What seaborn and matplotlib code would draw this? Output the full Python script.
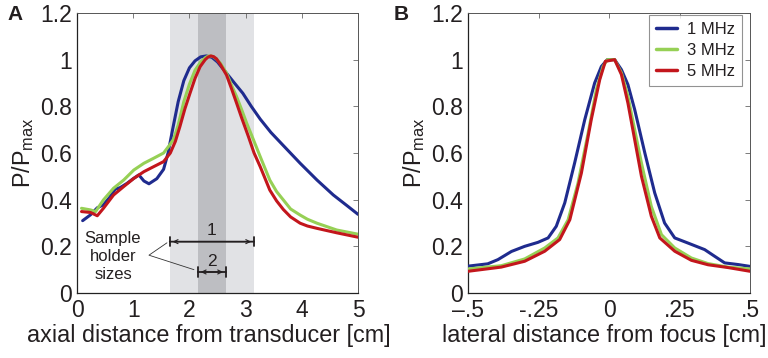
import numpy as np
import pandas as pd
import matplotlib
matplotlib.use("Agg")
import matplotlib.pyplot as plt
import seaborn as sns

# ---------------- data ----------------
freqs = ["1 MHz", "3 MHz", "5 MHz"]
colors = ["#1f2b8e", "#96d055", "#c3161c"]

# Panel A: axial profiles
a_x_1 = [0.1, 0.24, 0.36, 0.47, 0.58, 0.68, 0.77, 0.89, 1.0, 1.1, 1.19, 1.28, 1.42, 1.54, 1.62, 1.70,
         1.80, 1.90, 2.0, 2.1, 2.2, 2.3, 2.4, 2.5, 2.6, 2.7, 2.8, 2.95, 3.1, 3.26, 3.45, 3.67, 3.97,
         4.27, 4.56, 4.8, 5.0]
a_y_1 = [0.31, 0.335, 0.365, 0.378, 0.41, 0.445, 0.452, 0.47, 0.49, 0.506, 0.48, 0.468, 0.49, 0.53,
         0.60, 0.70, 0.82, 0.91, 0.965, 0.995, 1.012, 1.016, 1.01, 0.99, 0.96, 0.93, 0.90, 0.856,
         0.80, 0.745, 0.688, 0.632, 0.556, 0.484, 0.42, 0.375, 0.337]
a_x_3 = [0.08, 0.24, 0.33, 0.47, 0.65, 0.83, 1.01, 1.19, 1.36, 1.54, 1.65, 1.72, 1.8, 1.9, 2.0, 2.1,
         2.2, 2.28, 2.33, 2.38, 2.43, 2.48, 2.55, 2.66, 2.75, 2.84, 2.93, 3.02, 3.1, 3.26, 3.43,
         3.55, 3.67, 3.8, 3.97, 4.1, 4.27, 4.62, 5.0]
a_y_3 = [0.363, 0.356, 0.349, 0.399, 0.449, 0.484, 0.527, 0.556, 0.577, 0.60, 0.635, 0.66, 0.72,
         0.82, 0.895, 0.955, 0.99, 1.008, 1.015, 1.016, 1.012, 1.003, 0.985, 0.942, 0.89, 0.841,
         0.785, 0.727, 0.68, 0.584, 0.484, 0.435, 0.399, 0.36, 0.334, 0.316, 0.299, 0.27, 0.252]
a_x_5 = [0.08, 0.24, 0.36, 0.47, 0.65, 0.83, 1.01, 1.19, 1.36, 1.54, 1.66, 1.75, 1.83, 1.92, 2.01,
         2.1, 2.19, 2.28, 2.33, 2.38, 2.43, 2.48, 2.55, 2.66, 2.75, 2.84, 2.93, 3.05, 3.15, 3.26,
         3.43, 3.55, 3.67, 3.8, 3.97, 4.1, 4.27, 4.62, 5.0]
a_y_5 = [0.349, 0.345, 0.331, 0.363, 0.42, 0.456, 0.491, 0.52, 0.541, 0.563, 0.60, 0.65, 0.713,
         0.79, 0.856, 0.92, 0.97, 1.0, 1.011, 1.016, 1.013, 1.004, 0.98, 0.934, 0.875, 0.813,
         0.75, 0.67, 0.60, 0.541, 0.441, 0.395, 0.358, 0.326, 0.299, 0.287, 0.277, 0.258, 0.239]

# Panel B: lateral profiles
b_x_1 = [-0.5, -0.43, -0.394, -0.346, -0.299, -0.252, -0.216, -0.187, -0.157, -0.122, -0.086,
         -0.051, -0.027, -0.006, 0.02, 0.044, 0.067, 0.091, 0.127, 0.162, 0.197, 0.233, 0.28,
         0.339, 0.375, 0.41, 0.457, 0.5]
b_y_1 = [0.115, 0.125, 0.143, 0.178, 0.2, 0.217, 0.236, 0.286, 0.386, 0.557, 0.743, 0.9, 0.971,
         1.0, 1.0, 0.957, 0.893, 0.786, 0.6, 0.429, 0.3, 0.236, 0.214, 0.186, 0.157, 0.129, 0.122,
         0.114]
b_x_3 = [-0.5, -0.382, -0.299, -0.228, -0.181, -0.145, -0.110, -0.074, -0.045, -0.021, -0.006,
         0.02, 0.044, 0.067, 0.091, 0.115, 0.15, 0.186, 0.233, 0.292, 0.351, 0.422, 0.5]
b_y_3 = [0.103, 0.117, 0.146, 0.193, 0.236, 0.314, 0.471, 0.686, 0.871, 0.971, 1.0, 1.0, 0.943,
         0.843, 0.7, 0.557, 0.371, 0.25, 0.193, 0.15, 0.126, 0.111, 0.103]
b_x_5 = [-0.5, -0.382, -0.299, -0.228, -0.175, -0.139, -0.098, -0.063, -0.033, -0.013, 0.02,
         0.044, 0.067, 0.091, 0.115, 0.15, 0.18, 0.233, 0.292, 0.351, 0.422, 0.5]
b_y_5 = [0.093, 0.111, 0.136, 0.179, 0.229, 0.314, 0.514, 0.743, 0.914, 0.993, 1.0, 0.936, 0.814,
         0.657, 0.5, 0.329, 0.236, 0.179, 0.14, 0.121, 0.109, 0.093]

# sample holder regions (cm)
holder_1 = [1.65, 3.15]
holder_2 = [2.15, 2.65]

a_xticks = [0, 1, 2, 3, 4, 5]
yticks = [0, 0.2, 0.4, 0.6, 0.8, 1.0, 1.2]
ytick_labels = ["0", "0.2", "0.4", "0.6", "0.8", "1", "1.2"]
b_xticks = [-0.5, -0.25, 0, 0.25, 0.5]
b_xtick_labels = ["\u2013.5", "-.25", "0", ".25", ".5"]


def long_df(xs, ys):
    parts = []
    for f, x, y in zip(freqs, xs, ys):
        parts.append(pd.DataFrame({"x": x, "y": y, "freq": f}))
    return pd.concat(parts, ignore_index=True)


df_a = long_df([a_x_1, a_x_3, a_x_5], [a_y_1, a_y_3, a_y_5])
df_b = long_df([b_x_1, b_x_3, b_x_5], [b_y_1, b_y_3, b_y_5])

# ---------------- style ----------------
sns.set_theme(style="white")
plt.rcParams["font.family"] = ["Liberation Sans", "DejaVu Sans"]
plt.rcParams["mathtext.fontset"] = "custom"
plt.rcParams["mathtext.rm"] = "Liberation Sans"
plt.rcParams["mathtext.it"] = "Liberation Sans"
txt = "#231f20"
fs_tick = 16.5
fs_label = 16.8

fig = plt.figure(figsize=(7.68, 3.58), dpi=100)
ax_a = fig.add_axes([0.1003, 0.1816, 0.3659, 0.7821])
ax_b = fig.add_axes([0.6094, 0.1816, 0.3672, 0.7821])

palette = dict(zip(freqs, colors))

# shaded holder regions
ax_a.axvspan(*holder_1, color="#e1e2e5", zorder=0, lw=0)
ax_a.axvspan(*holder_2, color="#bdbec2", zorder=0.5, lw=0)

sns.lineplot(data=df_a, x="x", y="y", hue="freq", palette=palette, sort=False,
             estimator=None, lw=2.2, ax=ax_a, legend=False, zorder=3)
sns.lineplot(data=df_b, x="x", y="y", hue="freq", palette=palette, sort=False,
             estimator=None, lw=2.2, ax=ax_b, zorder=3)

for ax in (ax_a, ax_b):
    ax.set_ylim(0, 1.2)
    ax.set_yticks(yticks)
    ax.set_yticklabels(ytick_labels)
    ax.tick_params(direction="in", length=3.5, width=0.6, colors="#666666",
                   labelcolor=txt, labelsize=fs_tick, top=True, right=True)
    ax.tick_params(axis="x", pad=4)
    ax.tick_params(axis="y", pad=3.5)
    for s in ax.spines.values():
        s.set_color("#222222")
        s.set_linewidth(0.9)
    for s in ("top", "right"):
        ax.spines[s].set_color("#555555")
        ax.spines[s].set_linewidth(0.7)
    ax.set_ylabel("P/P$_{\\mathrm{max}}$", fontsize=fs_label, color=txt, labelpad=3)

ax_a.set_xlim(0, 5)
ax_a.set_xticks(a_xticks)
ax_a.set_xticklabels([str(t) for t in a_xticks])
ax_a.set_xlabel("axial distance from transducer [cm]", fontsize=fs_label, color=txt, labelpad=2)
ax_a.xaxis.label.set_x(0.47)

ax_b.set_xlim(-0.5, 0.5)
ax_b.set_xticks(b_xticks)
ax_b.set_xticklabels(b_xtick_labels)
ax_b.set_xlabel("lateral distance from focus [cm]", fontsize=fs_label, color=txt, labelpad=2)
ax_b.xaxis.label.set_x(0.484)

leg = ax_b.legend(loc="upper right", bbox_to_anchor=(0.972, 0.993), borderaxespad=0,
                  fontsize=12, frameon=True, fancybox=False,
                  handlelength=1.25, labelspacing=0.38, handletextpad=0.65, borderpad=0.4)
leg.get_frame().set_edgecolor("#777777")
leg.get_frame().set_linewidth(0.8)
for t in leg.get_texts():
    t.set_color(txt)
for h in leg.legend_handles:
    h.set_linewidth(2.5)

# sample holder brackets
br_col = "#231f20"
y1, y2 = 0.22, 0.09
for (lo, hi), yy in ((holder_1, y1), (holder_2, y2)):
    ax_a.annotate("", xy=(lo, yy), xytext=(hi, yy),
                  arrowprops=dict(arrowstyle="|-|,widthA=0.28,widthB=0.28", lw=1.3,
                                  color=br_col, shrinkA=0, shrinkB=0))
    ax_a.annotate("", xy=(lo + 0.05, yy), xytext=(hi - 0.05, yy),
                  arrowprops=dict(arrowstyle="<->,head_length=0.25,head_width=0.12", lw=0.8,
                                  color=br_col, shrinkA=0, shrinkB=0))
ax_a.text(sum(holder_1) / 2, y1 + 0.015, "1", ha="center", va="bottom", fontsize=12.5, color=txt)
ax_a.text(sum(holder_2) / 2, y2 + 0.012, "2", ha="center", va="bottom", fontsize=12.5, color=txt)
ax_a.text(0.64, 0.155, "Sample\nholder\nsizes", ha="center", va="center", fontsize=12,
          color=txt, linespacing=1.25)
ax_a.plot([1.6, 1.28, 2.08], [0.215, 0.162, 0.1], color="#333333", lw=0.6, zorder=2)

# panel letters
fig.text(0.010, 0.985, "A", fontsize=15, fontweight="bold", color=txt, va="top", ha="left")
fig.text(0.512, 0.985, "B", fontsize=15, fontweight="bold", color=txt, va="top", ha="left")

fig.savefig("out.png", dpi=100)
